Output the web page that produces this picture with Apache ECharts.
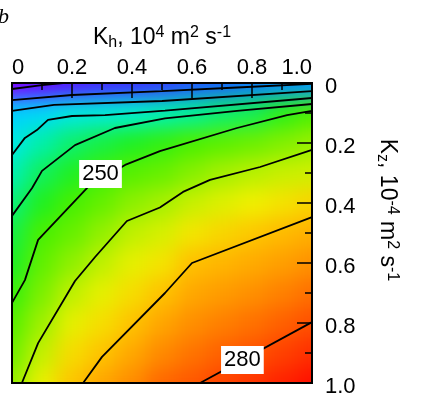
<!DOCTYPE html>
<html><head><meta charset="utf-8">
<script src="https://cdn.jsdelivr.net/npm/echarts@6.0.0/dist/echarts.min.js"></script>
<style>
html,body{margin:0;padding:0;background:#fff;}
#wrap{position:relative;width:427px;height:399px;overflow:hidden;}
#clip{position:absolute;left:12px;top:83px;width:300px;height:300px;overflow:hidden;}
.hm{position:absolute;left:-15px;top:-15px;width:330px;height:330px;}
#hmBlur{filter:blur(10px);}
#main{position:absolute;left:0;top:0;width:427px;height:399px;}
</style></head>
<body><div id="wrap"><div id="clip"><div id="hmBase" class="hm"></div><div id="hmBlur" class="hm"></div></div><div id="main"></div></div>
<script>
// Grid positions (Kh across, Kz down), both 0..1 step 0.1
var khCats = ['0','0.1','0.2','0.3','0.4','0.5','0.6','0.7','0.8','0.9','1.0'];
var kzCats = ['0','0.1','0.2','0.3','0.4','0.5','0.6','0.7','0.8','0.9','1.0'];

// Field values, one row per Kz level
var kz00 = [194,199,202,204,205,206,208,209,211,213,214];
var kz01 = [221.5,223.3,227.5,228.5,230,232.8,235.4,238.8,241,246.4,250.5];
var kz02 = [227.5,234,239,242,244.8,247.3,250.2,252.4,254.4,256.3,258.2];
var kz03 = [233,240.3,244.7,248.7,251.9,253.9,256.8,259.3,260.8,262,262.5];
var kz04 = [238,245,249.8,253.5,257.3,259.4,262,263.6,265,266.4,267.9];
var kz05 = [242,250,253.7,257.8,261.4,263,266,267.7,269.2,270.5,271.5];
var kz06 = [244.5,253,257.6,261.4,264.2,266.3,270,271,272,273.2,274.4];
var kz07 = [248.1,256,261.3,264.2,267,269.7,272.3,273.5,274.6,275.9,277.3];
var kz08 = [252,258.8,264.2,266.9,269.7,272.5,274.7,276,277.2,278.6,280];
var kz09 = [255,261.7,267.1,269.6,272.3,275.2,277,278.5,279.7,281.2,282.5];
var kz10 = [258,264.5,269.5,272.5,275,278,279.3,280.9,282,283.5,285];

// Contour lines [Kh, Kz]
var c200 = [[0,0.02],[0.1,0.007],[0.17,0]];
var c210 = [[0,0.057],[0.2,0.04],[0.5,0.027],[0.75,0.015],[1,0.003]];
var c220 = [[0,0.093],[0.14,0.073],[0.5,0.06],[1,0.027]];
var c230 = [[0,0.24],[0.043,0.183],[0.083,0.157],[0.12,0.123],[0.2,0.11],[0.31,0.107],[0.51,0.092],[1,0.05]];
var c240 = [[0,0.443],[0.067,0.35],[0.1,0.293],[0.21,0.207],[0.343,0.15],[0.51,0.118],[0.75,0.093],[1,0.07]];
var c250 = [[0,0.733],[0.043,0.657],[0.087,0.523],[0.253,0.347],[0.377,0.273],[0.493,0.227],[0.75,0.15],[0.917,0.107],[1,0.093]];
var c260 = [[0.033,1],[0.087,0.867],[0.21,0.66],[0.277,0.58],[0.383,0.46],[0.493,0.415],[0.57,0.363],[0.66,0.323],[0.827,0.28],[1,0.223]];
var c270 = [[0.237,1],[0.3,0.913],[0.51,0.7],[0.6,0.6],[1,0.447]];
var c280 = [[0.627,1],[1,0.797]];

// Contour labels
var labelNames = ['250','280'];
var labelPos = [[0.295,0.303],[0.768,0.923]];

var rows = [kz00,kz01,kz02,kz03,kz04,kz05,kz06,kz07,kz08,kz09,kz10];
var cells = [];
rows.forEach(function(r, j){ r.forEach(function(v, i){ cells.push([i, j, v]); }); });

var palette = ['#8000ff','#6408ff','#3c30ff','#1070ff','#00a0ff','#00c8ff','#00e0f8','#00f0d0','#00f0a0','#10f060',
  '#20f020','#48f000','#70f000','#acf000','#f0f000','#ffc000','#ff8c00','#ff5000','#ff1000'];

function heat(id){
  var c = echarts.init(document.getElementById(id), null, {renderer:'canvas'});
  c.setOption({
    animation:false,
    grid:{left:0,right:0,top:0,bottom:0},
    xAxis:{type:'category',data:khCats,show:false},
    yAxis:{type:'category',data:kzCats,show:false,inverse:true},
    visualMap:{show:false,min:195,max:285,dimension:2,inRange:{color:palette}},
    series:[{type:'heatmap',data:cells,progressive:0,itemStyle:{borderWidth:0}}]
  });
}
heat('hmBase');
heat('hmBlur');

var FONT = 'Liberation Sans, Arial, sans-serif';
var nameRich = {
  m:{fontSize:23,lineHeight:26,fontFamily:FONT,color:'#000'},
  sub:{fontSize:16,lineHeight:10,verticalAlign:'bottom',fontFamily:FONT,color:'#000'},
  sup:{fontSize:16,lineHeight:22,verticalAlign:'top',fontFamily:FONT,color:'#000'}
};
function fmt(v){ return v === 0 ? '0' : v.toFixed(1); }
var tickStyle = {color:'#000',width:1.5};

var levels = [c200,c210,c220,c230,c240,c250,c260,c270,c280];
var series = levels.map(function(d){
  return {type:'line',data:d,showSymbol:false,symbol:'none',smooth:false,silent:true,
    lineStyle:{color:'#000',width:1.8},z:3,clip:true};
});
series.push({
  type:'scatter',symbolSize:0,z:5,silent:true,itemStyle:{opacity:1},
  data:labelNames.map(function(n,k){ return {name:n,value:labelPos[k]}; }),
  label:{show:true,position:'inside',formatter:'{b}',color:'#000',fontSize:22,fontFamily:FONT,
    backgroundColor:'#ffffff',opacity:1,padding:[3,3,3,3]}
});

var chart = echarts.init(document.getElementById('main'), null, {renderer:'canvas'});
chart.setOption({
  animation:false,
  backgroundColor:'transparent',
  grid:{left:12,top:83,width:300,height:300,show:true,borderColor:'#000',borderWidth:2,backgroundColor:'transparent'},
  xAxis:{type:'value',position:'top',min:0,max:1,interval:0.2,
    axisLine:{show:true,onZero:false,lineStyle:{color:'#000',width:2}},
    axisTick:{show:true,inside:true,length:15,lineStyle:tickStyle},
    minorTick:{show:true,splitNumber:2,length:7,lineStyle:tickStyle},
    splitLine:{show:false},
    axisLabel:{color:'#000',fontSize:22,fontFamily:FONT,margin:4,formatter:fmt,alignMinLabel:'left',alignMaxLabel:'right'},
    name:'{m|K}{sub|h}{m|, 10}{sup|4}{m| m}{sup|2}{m| s}{sup|-1}',
    nameLocation:'middle',nameGap:32,
    nameTextStyle:{rich:nameRich}
  },
  yAxis:{type:'value',position:'right',min:0,max:1,interval:0.2,inverse:true,
    axisLine:{show:true,onZero:false,lineStyle:{color:'#000',width:2}},
    axisTick:{show:true,inside:true,length:15,lineStyle:tickStyle},
    minorTick:{show:true,splitNumber:2,length:7,lineStyle:tickStyle},
    splitLine:{show:false},
    axisLabel:{color:'#000',fontSize:22,fontFamily:FONT,margin:13,formatter:fmt,verticalAlign:'top',lineHeight:8},
    name:'{m|K}{sub|z}{m|, 10}{sup|-4}{m| m}{sup|2}{m| s}{sup|-1}',
    nameLocation:'middle',nameRotate:-90,nameGap:62,
    nameTextStyle:{rich:nameRich,padding:[0,46,0,0]}
  },
  graphic:[{type:'text',left:-2,top:6,style:{text:'b',font:'italic 22px "Liberation Serif", serif',fill:'#000'}}],
  series:series
});
</script></body></html>
